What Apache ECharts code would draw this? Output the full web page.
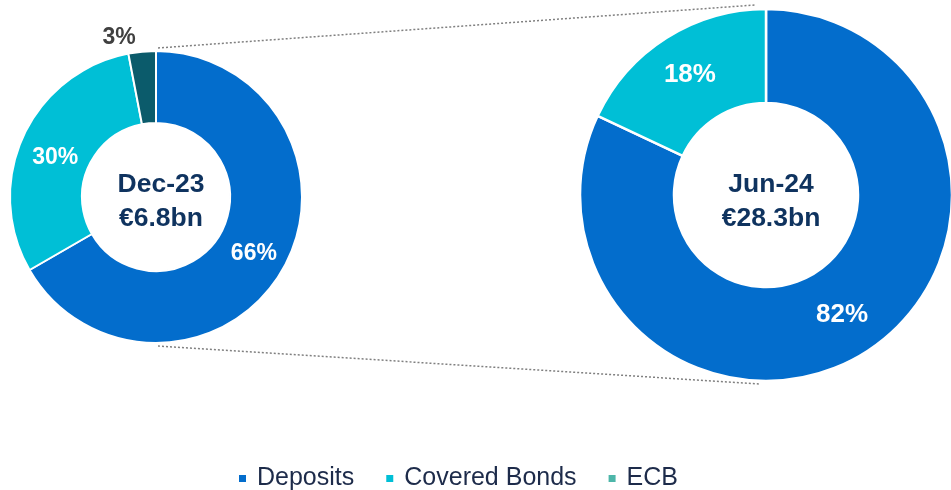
<!DOCTYPE html>
<html>
<head>
<meta charset="utf-8">
<script src="https://cdn.jsdelivr.net/npm/echarts@6/dist/echarts.min.js"></script>
<style>
  html, body { margin: 0; padding: 0; background: #fff; }
  #chart { width: 951px; height: 490px; }
</style>
</head>
<body>
<div id="chart"></div>
<script>
// funding mix, share in %
const categories = ["Deposits", "Covered Bonds", "ECB"];
const dec23Values = [66, 30, 3];
const jun24Values = [82, 18];
const periodLabels = ["Dec-23", "Jun-24"];
const totalLabels = ["€6.8bn", "€28.3bn"];

const sliceColors = ["#036dcc", "#00bfd6", "#0b5b6b"];
const legendColors = ["#036dcc", "#00bfd6", "#4db6a9"];
const font = "'Liberation Sans', Arial, sans-serif";

// layout of the two donuts
const leftPie = { cx: 156, cy: 197, r0: 74, r: 146 };
const rightPie = { cx: 766, cy: 195, r0: 92, r: 186 };

function pieData(values) {
  return values.map((v, i) => {
    const item = { name: categories[i], value: v, itemStyle: { color: sliceColors[i] } };
    if (i === 1 && values.length === 3) {
      item.label = { offset: [2, 8] };
    }
    if (i === 2) {
      item.label = {
        position: "outside",
        color: "#404040",
        fontSize: 23
      };
      item.labelLine = { show: false, length: 14, length2: 0 };
    }
    return item;
  });
}

const chart = echarts.init(document.getElementById("chart"));

const dotted = { stroke: "#808080", lineWidth: 1.5, lineDash: [2, 2] };
const centerText = { fontFamily: font, fontSize: 26.5, fontWeight: "bold", color: "#0f335f", lineHeight: 34 };

chart.setOption({
  animation: false,
  title: [
    {
      text: periodLabels[0] + "\n" + totalLabels[0],
      left: leftPie.cx, top: 163, textAlign: "center",
      textStyle: centerText
    },
    {
      text: periodLabels[1] + "\n" + totalLabels[1],
      left: rightPie.cx, top: 163, textAlign: "center",
      textStyle: centerText
    }
  ],
  legend: {
    left: 232, top: 461,
    itemWidth: 9, itemHeight: 9, itemGap: 30,
    icon: "rect",
    textStyle: { fontFamily: font, fontSize: 25, color: "#1d2b4a", padding: [0, 0, 0, 5] },
    data: categories.map((c, i) => ({ name: c, itemStyle: { color: legendColors[i] } }))
  },
  graphic: [
    {
      type: "line", silent: true,
      shape: { x1: leftPie.cx + 2, y1: leftPie.cy - leftPie.r - 3, x2: rightPie.cx - 11, y2: rightPie.cy - rightPie.r - 4 },
      style: dotted
    },
    {
      type: "line", silent: true,
      shape: { x1: leftPie.cx + 2, y1: leftPie.cy + leftPie.r + 3, x2: rightPie.cx - 6, y2: rightPie.cy + rightPie.r + 3 },
      style: dotted
    }
  ],
  series: [
    {
      type: "pie",
      center: [leftPie.cx, leftPie.cy],
      radius: [leftPie.r0, leftPie.r],
      startAngle: 90,
      avoidLabelOverlap: false,
      itemStyle: { borderColor: "#fff", borderWidth: 2 },
      label: {
        position: "inside",
        formatter: "{c}%",
        fontFamily: font, fontSize: 23, fontWeight: "bold", color: "#fff"
      },
      emphasis: { disabled: true },
      data: pieData(dec23Values)
    },
    {
      type: "pie",
      center: [rightPie.cx, rightPie.cy],
      radius: [rightPie.r0, rightPie.r],
      startAngle: 90,
      avoidLabelOverlap: false,
      itemStyle: { borderColor: "#fff", borderWidth: 2.5 },
      label: {
        position: "inside",
        formatter: "{c}%",
        fontFamily: font, fontSize: 26, fontWeight: "bold", color: "#fff"
      },
      emphasis: { disabled: true },
      data: pieData(jun24Values)
    }
  ]
});
</script>
</body>
</html>
